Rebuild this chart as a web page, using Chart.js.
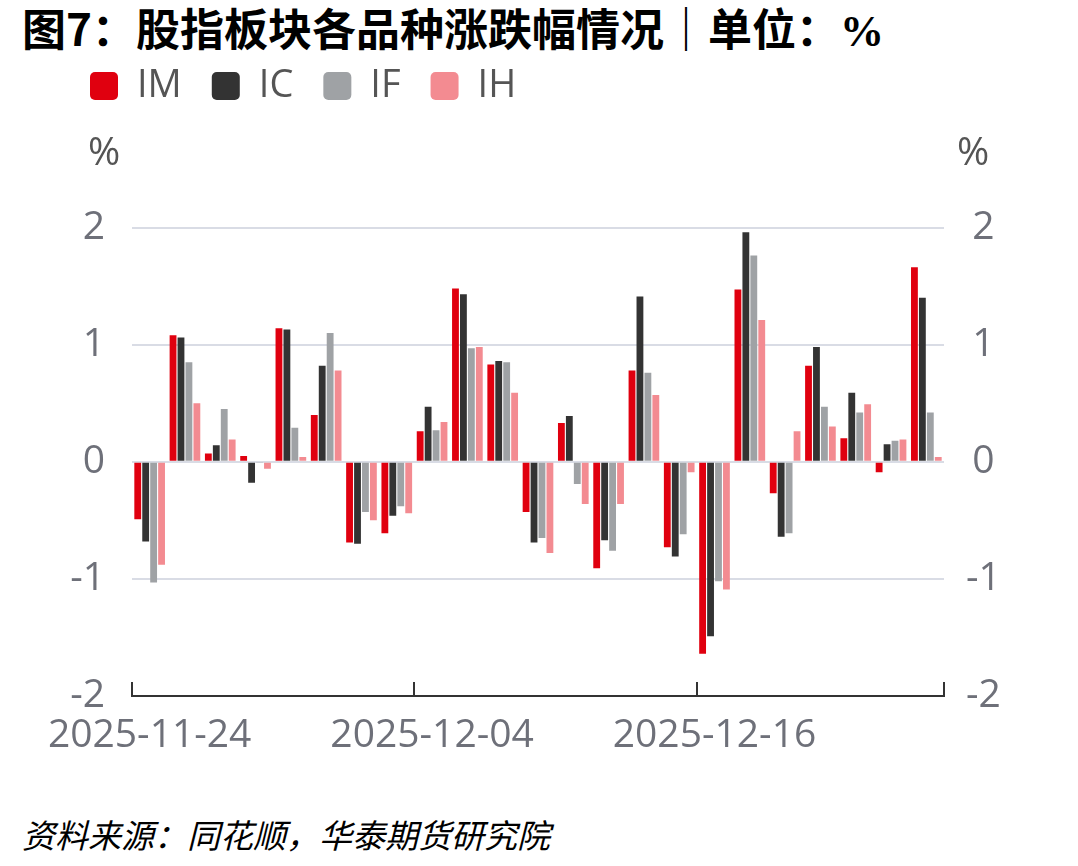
<!DOCTYPE html>
<html>
<head>
<meta charset="utf-8">
<script src="https://cdn.jsdelivr.net/npm/chart.js@4.4.1/dist/chart.umd.min.js"></script>
<style>
html, body { margin: 0; padding: 0; background: #fff; }
body { width: 1078px; height: 866px; position: relative; overflow: hidden; font-family: "Noto Sans CJK SC", sans-serif; }
#title { position: absolute; left: 22px; top: 1px; font-size: 44px; font-weight: bold; color: #000; white-space: pre; line-height: 52px; }
#title .pct { font-family: "Liberation Serif", serif; }
#source { position: absolute; left: 22px; top: 812px; font-size: 33px; font-style: italic; color: #000; line-height: 44px; white-space: pre; }
#wrap { position: absolute; left: 30px; top: 37px; width: 1048px; height: 733px; }
</style>
</head>
<body>
<div id="title">图7：股指板块各品种涨跌幅情况｜单位：<span class="pct">%</span></div>
<div id="wrap"><canvas id="chart-index-futures"></canvas></div>
<div id="source">资料来源：同花顺，华泰期货研究院</div>
<script>
// 股指期货各品种日涨跌幅 (%)
const dates = [
    '2025-11-24', '2025-11-25', '2025-11-26', '2025-11-27', '2025-11-28',
    '2025-12-01', '2025-12-02', '2025-12-03', '2025-12-04', '2025-12-05',
    '2025-12-08', '2025-12-09', '2025-12-10', '2025-12-11', '2025-12-12',
    '2025-12-15', '2025-12-16', '2025-12-17', '2025-12-18', '2025-12-19',
    '2025-12-22', '2025-12-23', '2025-12-24'
];
const imValues = [-0.49, 1.08, 0.07, 0.05, 1.14, 0.40, -0.69, -0.61, 0.26, 1.48, 0.83, -0.43, 0.33, -0.91, 0.78, -0.73, -1.64, 1.47, -0.27, 0.82, 0.20, -0.09, 1.66];
const icValues = [-0.68, 1.06, 0.14, -0.18, 1.13, 0.82, -0.70, -0.46, 0.47, 1.43, 0.86, -0.69, 0.39, -0.67, 1.41, -0.81, -1.49, 1.96, -0.64, 0.98, 0.59, 0.15, 1.40];
const ifValues = [-1.03, 0.85, 0.45, -0.01, 0.29, 1.10, -0.43, -0.38, 0.27, 0.97, 0.85, -0.65, -0.19, -0.76, 0.76, -0.62, -1.02, 1.76, -0.61, 0.47, 0.42, 0.18, 0.42];
const ihValues = [-0.88, 0.50, 0.19, -0.06, 0.04, 0.78, -0.50, -0.44, 0.34, 0.98, 0.59, -0.78, -0.36, -0.36, 0.57, -0.09, -1.09, 1.21, 0.26, 0.30, 0.49, 0.19, 0.04];
const shownDates = ['2025-11-24', '2025-12-04', '2025-12-16'];
const yTicks = [-2, -1, 0, 1, 2];

const COLORS = { IM: '#e0000f', IC: '#333333', IF: '#9fa2a5', IH: '#f38b91' };
const tickFont = { family: "'Open Sans', sans-serif", size: 39 };

// "%" unit labels above both value axes
const unitLabels = {
    id: 'unitLabels',
    afterDraw(chart) {
        const { ctx, chartArea } = chart;
        ctx.save();
        ctx.font = "39px 'Open Sans', sans-serif";
        ctx.fillStyle = '#555';
        ctx.textAlign = 'center';
        ctx.textBaseline = 'middle';
        ctx.fillText('%', chartArea.left - 28, chartArea.top - 74);
        ctx.fillText('%', chartArea.right + 29, chartArea.top - 74);
        ctx.restore();
    }
};

document.addEventListener('DOMContentLoaded', () => {
    const canvas = document.getElementById('chart-index-futures');
    const bar = (label, values) => ({
        label: label,
        data: values,
        backgroundColor: COLORS[label],
        borderWidth: 0,
        categoryPercentage: 0.9,
        barPercentage: 0.86
    });

    // only boundary ticks of labelled dates plus the closing one
    const xTickWidth = (ctx) => {
        if (ctx.type !== 'tick') return 2;
        return shownDates.includes(dates[ctx.index]) ? 2 : 0;
    };

    new Chart(canvas, {
        type: 'bar',
        data: {
            labels: dates,
            datasets: [
                bar('IM', imValues),
                bar('IC', icValues),
                bar('IF', ifValues),
                bar('IH', ihValues)
            ]
        },
        options: {
            responsive: true,
            maintainAspectRatio: false,
            animation: false,
            layout: { padding: { left: 30 } },
            plugins: {
                legend: {
                    display: true,
                    position: 'top',
                    align: 'start',
                    labels: {
                        boxWidth: 28,
                        boxHeight: 28,
                        useBorderRadius: true,
                        borderRadius: 5,
                        padding: 30,
                        color: '#555',
                        font: { family: "'Open Sans', sans-serif", size: 38 }
                    }
                },
                subtitle: {
                    // spacer between legend and plot
                    display: true,
                    text: ' ',
                    weight: 500,
                    position: 'top',
                    font: { size: 10 },
                    padding: { top: 0, bottom: 100.5 }
                },
                tooltip: { enabled: false }
            },
            scales: {
                x: {
                    offset: true,
                    grid: {
                        offset: true,
                        drawOnChartArea: false,
                        drawTicks: true,
                        tickLength: -14,
                        color: '#333',
                        lineWidth: xTickWidth
                    },
                    border: { display: true, color: '#333', width: 2 },
                    ticks: {
                        autoSkip: false,
                        maxRotation: 0,
                        padding: 30,
                        color: '#6e7079',
                        font: tickFont,
                        callback: function(value, index) {
                            const d = dates[index];
                            return shownDates.includes(d) ? d : '';
                        }
                    },
                    afterFit: (scale) => {
                        scale.height = 74;
                        scale.paddingLeft = 0;
                        scale.paddingRight = 0;
                    }
                },
                y: {
                    position: 'left',
                    min: -2,
                    max: 2,
                    afterBuildTicks: (scale) => { scale.ticks = yTicks.map(v => ({ value: v })); },
                    grid: {
                        drawTicks: false,
                        lineWidth: 2,
                        color: (ctx) => (ctx.tick && ctx.tick.value === -2) ? 'rgba(0,0,0,0)' : '#d9dce5'
                    },
                    border: { display: false },
                    ticks: {
                        padding: 27,
                        color: '#6e7079',
                        font: tickFont
                    },
                    afterFit: (scale) => { scale.width = 72; }
                },
                y2: {
                    position: 'right',
                    min: -2,
                    max: 2,
                    afterBuildTicks: (scale) => { scale.ticks = yTicks.map(v => ({ value: v })); },
                    grid: { display: false, drawTicks: false },
                    border: { display: false },
                    ticks: {
                        crossAlign: 'center',
                        padding: 22,
                        color: '#6e7079',
                        font: tickFont
                    },
                    afterFit: (scale) => { scale.width = 134; }
                }
            }
        },
        plugins: [unitLabels]
    });
});
</script>
</body>
</html>
